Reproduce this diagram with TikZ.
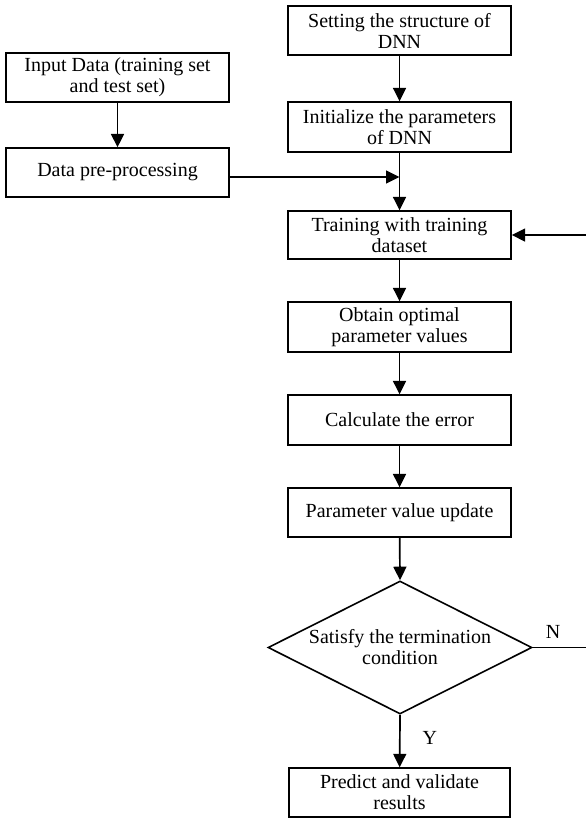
\documentclass[tikz,border=0pt]{standalone}
\usepackage{fontspec}
\setmainfont{Liberation Serif}
\usetikzlibrary{arrows.meta,shapes.geometric}
\begin{document}
\begin{tikzpicture}[x=1pt,y=-1pt,
  box/.style={draw,line width=1.4pt,rectangle,minimum width=223pt,minimum height=49pt,inner sep=0pt,align=center,
    font=\fontsize{20pt}{21pt}\selectfont},
  decision/.style={draw,line width=1.6pt,diamond,minimum width=264pt,minimum height=133pt,aspect=2,inner sep=0pt,align=center,
    font=\fontsize{20pt}{21pt}\selectfont},
  conn/.style={line width=1.7pt,-{Triangle[length=13.5pt,width=13pt]}},
  lbl/.style={font=\fontsize{20pt}{21pt}\selectfont,inner sep=0pt}]
\clip (0,0) rectangle (586,819);
\fill[white] (0,0) rectangle (586,819);
\node[box] (setting) at (399.5,30.5) {Setting the structure of\\DNN};
\node[box] (input) at (117.5,77.5) {Input Data (training set\\and test set)};
\node[box,minimum height=50pt] (init) at (399.5,127) {Initialize the parameters\\of DNN};
\node[box] (data) at (117.5,172.5) {Data pre-processing};
\node[box,minimum height=48pt] (train) at (399.5,235) {Training with training\\dataset};
\node[box,minimum height=50pt] (obtain) at (399.5,327) {Obtain optimal\\parameter values};
\node[box,minimum height=50pt] (calc) at (399.5,420) {Calculate the error};
\node[box] (param) at (399.5,512.5) {Parameter value update};
\node[decision] (dec) at (400,647.5) {Satisfy the termination\\condition};
\node[box,minimum width=221pt] (pred) at (399.5,792.5) {Predict and validate\\results};
\coordinate (cr) at (588,647.5);
\coordinate (ct) at (588,235);
\coordinate (join) at (399.5,177);

\draw[conn] (setting) -- (init);
\draw[conn] (input) -- (data);
\draw[conn] (data.east |- join) -- (join);
\draw[conn] (init) -- (train);
\draw[conn] (train) -- (obtain);
\draw[conn] (obtain) -- (calc);
\draw[conn] (calc) -- (param);
\draw[conn] (param) -- (dec.north);
\draw[conn] (dec.south) -- (pred) node[lbl,pos=0.45,right=22pt] {Y};
\draw[conn] (dec.east) -- (cr) -- (ct) -- (train.east);
\node[lbl] (nlab) at (553,632) {N};
\end{tikzpicture}
\end{document}
